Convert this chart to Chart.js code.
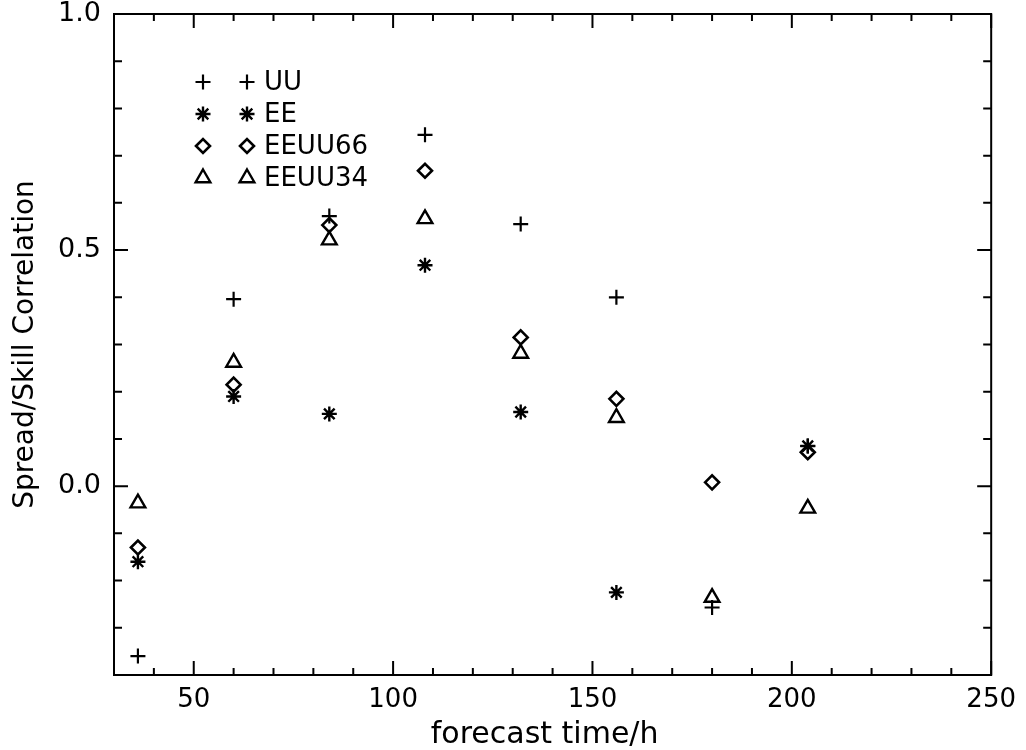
<!DOCTYPE html>
<html>
<head>
<meta charset="utf-8">
<title>Spread/Skill Correlation</title>
<script src="https://cdn.jsdelivr.net/npm/chart.js@4.4.1/dist/chart.umd.min.js"></script>
<style>
  html, body { margin: 0; padding: 0; background: #fff; }
  canvas { display: block; }
</style>
</head>
<body>
<canvas id="chart" width="1026" height="750"></canvas>
<script>
// forecast lead times (hours)
const hours = [36, 60, 84, 108, 132, 156, 180, 204];

// spread/skill correlation per experiment
const uu     = [-0.36, 0.396, 0.572, 0.744, 0.555, 0.40, -0.257, 0.085];
const ee     = [-0.16, 0.19, 0.153, 0.468, 0.157, -0.225, null, 0.085];
const eeuu66 = [-0.13, 0.215, 0.553, 0.668, 0.315, 0.185, 0.008, 0.072];
const eeuu34 = [-0.036, 0.262, 0.521, 0.566, 0.281, 0.145, -0.236, -0.047];

const seriesNames = ['UU', 'EE', 'EEUU66', 'EEUU34'];
const xTitle = 'forecast time/h';
const yTitle = 'Spread/Skill Correlation';

const FONT = "'DejaVu Sans', sans-serif";

function toPoints(values) {
  return hours.map((h, i) => ({ x: h, y: values[i] })).filter(p => p.y !== null);
}

const markers = [
  { pointStyle: 'cross',    radius: 7.5, borderWidth: 2.2 },
  { pointStyle: 'star',     radius: 7.5, borderWidth: 2.4 },
  { pointStyle: 'rectRot',  radius: 7,   borderWidth: 2.6 },
  { pointStyle: 'triangle', radius: 8.5, borderWidth: 2.4 }
];

const datasets = [uu, ee, eeuu66, eeuu34].map((vals, i) => ({
  label: seriesNames[i],
  data: toPoints(vals),
  showLine: false,
  pointStyle: markers[i].pointStyle,
  pointRadius: markers[i].radius,
  pointBorderWidth: markers[i].borderWidth,
  borderColor: '#000',
  backgroundColor: 'rgba(0,0,0,0)'
}));

const isMajorX = v => Math.abs(v % 50) < 1e-6;
const isMajorY = v => Math.abs(v * 2 - Math.round(v * 2)) < 1e-6;
const fmtY = v => (Math.round(v * 2) / 2 + 0).toFixed(1).replace('-0.0', '0.0');

// box frame, inward tick marks on all four sides, axis titles
const framePlugin = {
  id: 'frame',
  afterDraw(chart) {
    const { ctx, chartArea: a, scales } = chart;
    ctx.save();
    ctx.strokeStyle = '#000';
    ctx.lineWidth = 2;
    ctx.strokeRect(a.left, a.top, a.right - a.left, a.bottom - a.top);

    ctx.beginPath();
    scales.x.ticks.forEach(t => {
      const px = scales.x.getPixelForValue(t.value);
      const len = isMajorX(t.value) ? 14 : 7;
      ctx.moveTo(px, a.bottom); ctx.lineTo(px, a.bottom - len);
      ctx.moveTo(px, a.top);    ctx.lineTo(px, a.top + len);
    });
    scales.y.ticks.forEach(t => {
      const py = scales.y.getPixelForValue(t.value);
      const len = isMajorY(t.value) ? 14 : 8;
      ctx.moveTo(a.left, py);  ctx.lineTo(a.left + len, py);
      ctx.moveTo(a.right, py); ctx.lineTo(a.right - len, py);
    });
    ctx.stroke();

    ctx.fillStyle = '#000';
    ctx.font = '30px ' + FONT;
    ctx.textAlign = 'center';
    ctx.textBaseline = 'alphabetic';
    ctx.fillText(xTitle, (a.left + a.right) / 2 - 8, 743);

    ctx.translate(33, (a.top + a.bottom) / 2);
    ctx.rotate(-Math.PI / 2);
    ctx.font = '28px ' + FONT;
    ctx.fillText(yTitle, 0, 0);
    ctx.restore();
  }
};

// legend: two copies of the symbol followed by the series name
const legendPlugin = {
  id: 'symbolLegend',
  afterDraw(chart) {
    const ctx = chart.ctx;
    ctx.save();
    chart.data.datasets.forEach((ds, i) => {
      const y = 82 + 32 * i;
      ctx.strokeStyle = '#000';
      ctx.fillStyle = 'rgba(0,0,0,0)';
      ctx.lineWidth = ds.pointBorderWidth;
      const opts = { pointStyle: ds.pointStyle, radius: ds.pointRadius, rotation: 0, borderWidth: ds.pointBorderWidth };
      Chart.helpers.drawPoint(ctx, opts, 203, y);
      Chart.helpers.drawPoint(ctx, opts, 247, y);
      ctx.fillStyle = '#000';
      ctx.font = '26px ' + FONT;
      ctx.textAlign = 'left';
      ctx.textBaseline = 'middle';
      ctx.fillText(ds.label, 264, y + 1);
    });
    ctx.restore();
  }
};

new Chart(document.getElementById('chart'), {
  type: 'scatter',
  data: { datasets },
  options: {
    responsive: false,
    animation: false,
    layout: { padding: { left: 0, top: 14, right: 31, bottom: 0 } },
    plugins: {
      legend: { display: false },
      tooltip: { enabled: false }
    },
    scales: {
      x: {
        type: 'linear',
        min: 30,
        max: 250,
        grid: { display: false, drawTicks: false },
        border: { display: false },
        ticks: {
          stepSize: 10,
          autoSkip: false,
          maxRotation: 0,
          padding: 10,
          color: '#000',
          font: { family: FONT, size: 26 },
          callback: v => isMajorX(v) ? String(v) : ''
        },
        afterFit(scale) { scale.height = 75; }
      },
      y: {
        type: 'linear',
        min: -0.4,
        max: 1.0,
        grid: { display: false, drawTicks: false },
        border: { display: false },
        ticks: {
          stepSize: 0.1,
          autoSkip: false,
          padding: 13,
          color: '#000',
          font: { family: FONT, size: 27 },
          callback: v => isMajorY(v) ? fmtY(v) : ''
        },
        afterFit(scale) {
          scale.width = 114;
          scale.paddingTop = 0;
          scale.paddingBottom = 0;
        }
      }
    }
  },
  plugins: [framePlugin, legendPlugin]
});
</script>
</body>
</html>
